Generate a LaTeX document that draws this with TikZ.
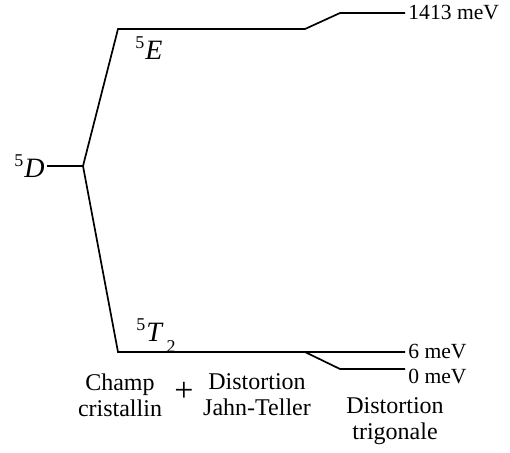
\documentclass[tikz,border=0pt]{standalone}
\usepackage{fontspec}
\setmainfont{Liberation Serif}
\usepackage{tikz}
\usetikzlibrary{positioning,calc}

\begin{document}
\begin{tikzpicture}[
  x=0.5pt,y=-0.5pt,
  level/.style={line width=0.85pt},
  term/.style={inner sep=1pt,font=\fontsize{14}{16}\selectfont},
  energy/.style={anchor=west,inner sep=1.5pt,font=\fontsize{10.8}{12}\selectfont},
  caption/.style={align=center,inner sep=0pt,font=\fontsize{12}{13}\selectfont}
]
\useasboundingbox (0,0) rectangle (510,452);
% free ion term and splitting points
\node[term,anchor=east] (free) at (47,166) {\textsuperscript{\small 5}\textit{D}};
\coordinate (split) at (83,166);
\coordinate (eleft) at (118,29);
\coordinate (ejt) at (305,29);
\coordinate (etri) at (340,13);
\coordinate (tleft) at (118,352);
\coordinate (tjt) at (305,352);
\coordinate (ttri) at (340,369);
% energies
\node[energy] (ehigh) at (405,13) {1413 meV};
\node[energy] (tsix) at (405,352) {6 meV};
\node[energy] (tzero) at (405,376) {0 meV};
% term labels
\node[term] (eterm) at (149,48) {\textsuperscript{\small 5}\textit{E}};
\node[term] (tterm) at (156,336) {\textsuperscript{\small 5}\textit{T}\raisebox{-0.9ex}{\small\,2}};
% levels
\draw[level] (free.east) -- (split);
\draw[level] (split) -- (eleft) -- (ejt) -- (etri) -- (ehigh.west);
\draw[level] (split) -- (tleft) -- (tjt) -- (tsix.west);
\draw[level] (tjt) -- (ttri) -- (ttri -| tzero.west);
% captions
\node[caption] (champ) at (120,395) {Champ\\cristallin};
\node[caption,font=\fontsize{17}{17}\selectfont] (plus) at (184,392) {+};
\node[caption] (jahn) at (257,395) {Distortion\\Jahn-Teller};
\node[caption] (trig) at (395,421) {Distortion\\trigonale};
\end{tikzpicture}
\end{document}
